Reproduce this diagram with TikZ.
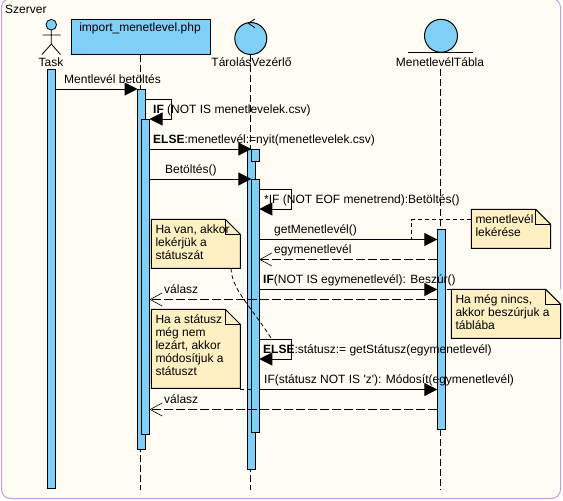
\documentclass[tikz,border=0pt]{standalone}
\usepackage{fontspec}
\setmainfont{Liberation Sans}
\usetikzlibrary{arrows.meta, calc}
\definecolor{cBack}{RGB}{255,252,243}
\definecolor{cFrame}{RGB}{200,155,230}
\definecolor{cBar}{RGB}{128,207,247}
\definecolor{cNote}{RGB}{254,240,194}
\tikzset{
	bar/.style      ={rectangle, draw=black, line width=1pt, fill=cBar, minimum width=8pt, inner sep=0pt, outer sep=0pt, anchor=north},
	actorlabel/.style={anchor=base, inner sep=0pt},
	msglabel/.style ={anchor=base west, inner sep=0pt},
	notebox/.style  ={rectangle, fill=cNote, inner sep=0pt, outer sep=0pt, anchor=north west},
	notetext/.style ={anchor=north west, align=left, inner sep=0pt, xshift=4pt, yshift=-5.5pt},
	noteline/.style ={draw=black, line width=1pt},
	lifeline/.style ={line width=1pt, dash pattern=on 7pt off 3pt},
	msg/.style      ={-{Triangle[length=13pt, width=13pt]}, line width=1pt},
	reply/.style    ={-{Straight Barb[length=12pt, width=13pt, line width=.6pt]}, line width=1pt, dash pattern=on 9pt off 3pt},
	notelink/.style ={line width=.8pt, dash pattern=on 4pt off 3pt},
}
\begin{document}
\begin{tikzpicture}[x=1pt, y=-1pt, font=\fontsize{12}{13}\selectfont]
	\useasboundingbox (0,0) rectangle (563,501);
	\fill[white] (0,0) rectangle (563,501);
	\filldraw[fill=cBack, draw=cFrame, line width=1pt, rounded corners=9pt] (1.5,-1.5) rectangle (560.5,498.5);
	\node[msglabel] (szerver) at (5,13) {Szerver};
	% lifelines
	\coordinate (topImp) at (140.5,54.5);
	\coordinate (endImp) at (140.5,490);
	\coordinate (topVez) at (250.5,55);
	\coordinate (endVez) at (250.5,490);
	\coordinate (topTab) at (440.5,69);
	\coordinate (endTab) at (440.5,490);
	\foreach \from/\to in {topImp/endImp, topVez/endVez, topTab/endTab} {
		\draw[lifeline] (\from) -- (\to);
	}
	% actors
	\filldraw[fill=cBar, line width=.8pt] (51.3,24.7) circle (5.3);
	\draw[line width=.8pt] (51.3,30) -- (51.3,44) (42.5,35) -- (60.5,35) (42,54.5) -- (51.3,44) -- (60.5,54.5);
	\node[actorlabel] (task) at (51,66) {Task};
	\node[rectangle, draw=black, line width=1pt, fill=cBar, minimum width=139pt, minimum height=35pt, inner sep=0pt] (boxImp) at (141,37) {};
	\node[actorlabel] (impLabel) at (140,31) {import\_menetlevel.php};
	\filldraw[fill=cBar, line width=1pt] (250.8,38.5) circle (16);
	\draw[line width=.8pt] (255,19) -- (248.3,23.3) -- (255,27.7);
	\node[actorlabel] (vezLabel) at (251.5,66) {TárolásVezérlő};
	\filldraw[fill=cBar, line width=1pt] (441,35.8) circle (16.5);
	\draw[line width=1pt] (408,52.3) -- (473,52.3);
	\node[actorlabel] (tabLabel) at (440,66) {MenetlevélTábla};
	% activation bars
	\foreach \nm/\px/\py/\h in {barTask/51.5/69/419, barImp/141.5/89/360, barImpIn/145.5/119/315, barVez/251.3/149/320, barVezSm/255.3/149/12, barVezIn/255.3/179/253, barTab/441.3/229.3/199.7} {
		\node[bar, minimum height=\h pt] (\nm) at (\px,\py) {};
	}
	% notes
	\foreach \nm/\px/\py/\w/\h/\txt in {noteVan/151.3/219.3/89/49/{Ha van, akkor\\lekérjük a\\státuszát}, noteLez/151.3/309.3/89/79/{Ha a státusz\\még nem\\lezárt, akkor\\módosítjuk a\\státuszt}, noteLek/471.3/209.3/79.4/39/{menetlevél\\lekérése}, noteNin/451.3/289.3/109.4/49/{Ha még nincs,\\akkor beszúrjuk a\\táblába}} {
		\node[notebox, minimum width=\w pt, minimum height=\h pt] (\nm) at (\px,\py) {};
		\fill[cBack] ($(\nm.north east)+(-15,0)$) -- (\nm.north east) -- ($(\nm.north east)+(0,15)$) -- cycle;
		\draw[noteline] (\nm.north west) -- ($(\nm.north east)+(-15,0)$) -- ($(\nm.north east)+(0,15)$) -- (\nm.south east) -- (\nm.south west) -- cycle;
		\draw[noteline] ($(\nm.north east)+(-15,0)$) |- ($(\nm.north east)+(0,15)$);
		\node[notetext] (\nm T) at (\nm.north west) {\txt};
	}
	% messages
	\draw[msg] (barTask.east |- 0,89) -- (barImp.west |- 0,89);
	\draw[msg] (barImp.east |- 0,99.5) -| (171.5,119) -- (barImpIn.east |- 0,119);
	\draw[msg] (barImpIn.east |- 0,149) -- (barVezSm.west |- 0,149);
	\draw[msg] (barImpIn.east |- 0,179) -- (barVezIn.west |- 0,179);
	\draw[msg] (barVezIn.east |- 0,189.5) -| (291.5,209) -- (barVezIn.east |- 0,209);
	\draw[msg] (barVezIn.east |- 0,239.5) -- (barTab.west |- 0,239.5);
	\draw[reply] (barTab.west |- 0,259.5) -- (barVezIn.east |- 0,259.5);
	\draw[msg] (barVezIn.east |- 0,289.5) -- (barTab.west |- 0,289.5);
	\draw[reply] (barTab.west |- 0,299.5) -- (barImpIn.east |- 0,299.5);
	\draw[msg] (barVezIn.east |- 0,339.5) -| (291.5,359) -- (barVezIn.east |- 0,359);
	\draw[msg] (barVezIn.east |- 0,389.5) -- (barTab.west |- 0,389.5);
	\draw[reply] (barTab.west |- 0,409.5) -- (barImpIn.east |- 0,409.5);
	% note links
	\coordinate (linkVan) at (231,268.3);
	\coordinate (linkElse) at (272,339.5);
	\draw[notelink] (noteLek.west |- 0,219.5) -| (411.5,239.5);
	\draw[notelink] (noteNin.west |- 0,289.5) -- (barTab.east |- 0,289.5);
	\draw[notelink] (noteLez.east |- 0,389.5) -- (barVezIn.west |- 0,389.5);
	\draw[notelink] (linkVan) .. controls (232,290) and (250,305) .. (linkElse);
	% message labels
	\foreach \nm/\px/\py/\txt in {lblBet/64/83/Mentlevél betöltés, lblIf/153/113/{\textbf{IF} (NOT IS menetlevelek.csv)}, lblElse/153/143/{\textbf{ELSE}:menetlevél:=nyit(menetlevelek.csv)}, lblLoad/165/173/Betöltés(), lblEof/264/203/*IF (NOT EOF menetrend):Betöltés(), lblGet/274/233/getMenetlevél(), lblEgy/274/253/egymenetlevél, lblIns/263/283/{\textbf{IF}(NOT IS egymenetlevél): Beszúr()}, lblRep/164/293/válasz, lblSta/263/353/{\textbf{ELSE}:státusz:= getStátusz(egymenetlevél)}, lblMod/264/383/{IF(státusz NOT IS \textquotesingle z\textquotesingle): Módosít(egymenetlevél)}, lblRepB/164/403/válasz} {
		\node[msglabel] (\nm) at (\px,\py) {\txt};
	}
\end{tikzpicture}
\end{document}
